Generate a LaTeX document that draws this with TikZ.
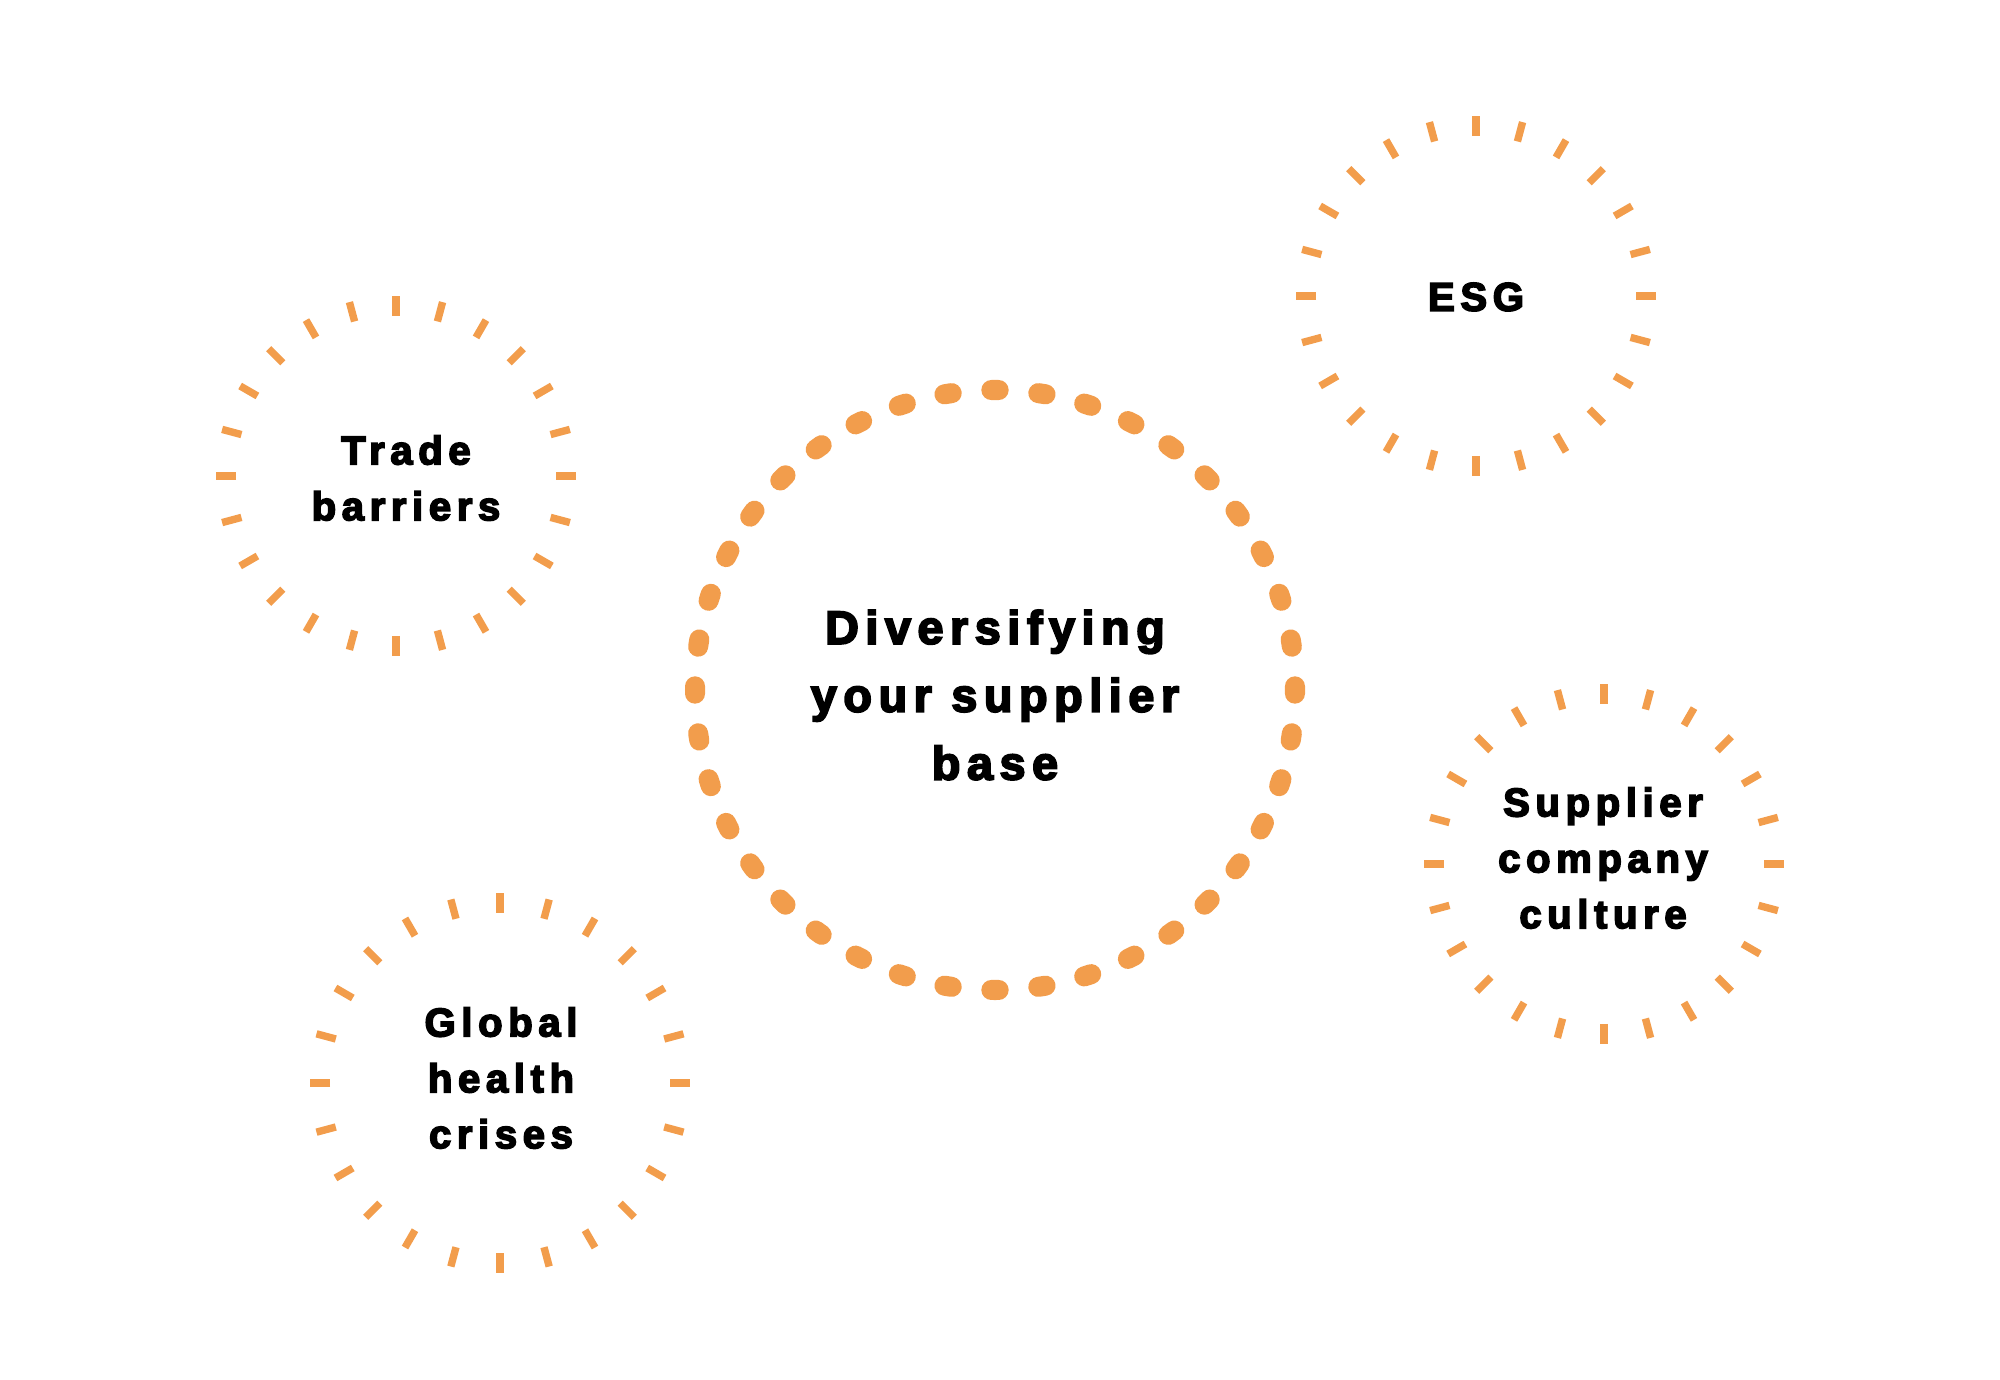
\documentclass[tikz,border=0pt]{standalone}
\usepackage{fontspec}
\newfontfamily\labelfont{Liberation Sans}[LetterSpace=14, BoldFeatures={FakeBold=4}]
\definecolor{drvorange}{HTML}{F29D4C}
\definecolor{drvblack}{HTML}{000000}

\begin{document}
\begin{tikzpicture}[
    x=0.01cm, y=-0.01cm,
    topic/.style={
        align=center, text=drvblack, inner sep=0pt,
        font=\labelfont\bfseries\fontsize{11.4}{15.9}\selectfont
    },
    maintopic/.style={
        topic, font=\labelfont\bfseries\fontsize{13.3}{19.3}\selectfont
    },
    tick/.style={draw=drvorange, line width=2.1pt, line cap=butt},
    dotline/.style={draw=drvorange, line width=5.7pt, line cap=round},
]

\useasboundingbox (0,0) rectangle (2000,1380);

% ===================================================================
% CENTRE — dotted ring
% ===================================================================
\node[maintopic] (base) at (995,695) {Diversifying\\your supplier\\base};

\coordinate (base-c) at (995,690);
\foreach \a in {0,9,...,351}
    \draw[dotline] (base-c) ++(\a-0.7:300) arc[start angle=\a-0.7, delta angle=1.4, radius=300];

% ===================================================================
% OUTER TOPICS — ticked rings
% ===================================================================
\node[topic] (trade)    at (406,478)  {Trade\\barriers};
\node[topic] (esg)      at (1476,297) {ESG};
\node[topic] (supplier) at (1603,858) {Supplier\\company\\culture};
\node[topic] (health)   at (501,1078) {Global\\health\\crises};

\coordinate (trade-c)    at (396,476);
\coordinate (esg-c)      at (1476,296);
\coordinate (supplier-c) at (1604,864);
\coordinate (health-c)   at (500,1083);

% ring centre / inner radius
\foreach \c/\r in {trade-c/160, esg-c/160, supplier-c/160, health-c/170}
    \foreach \a in {0,15,...,345}
        \draw[tick] (\c) ++(\a:\r) -- ++(\a:20);

\end{tikzpicture}
\end{document}
